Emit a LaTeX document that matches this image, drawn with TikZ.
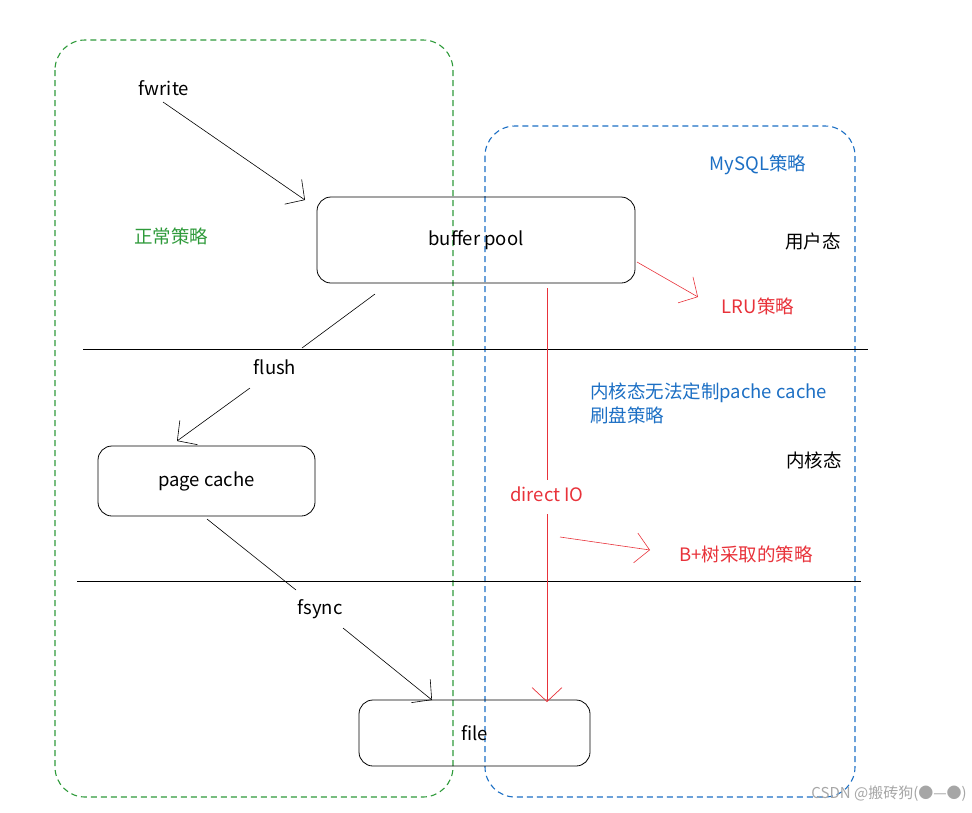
\documentclass[tikz,border=0pt]{standalone}
\usepackage{fontspec}
\setmainfont{Noto Sans CJK SC}
\usetikzlibrary{arrows.meta}
\definecolor{gr}{HTML}{2E9A3A}
\definecolor{bl}{HTML}{1C6FC4}
\definecolor{rd}{HTML}{E8323A}
\begin{document}
\begin{tikzpicture}[x=1pt,y=-1pt,font=\fontsize{18.5}{24}\selectfont,
  box/.style={draw,rounded corners=14pt,line width=0.8pt},
  reg/.style={draw,dashed,dash pattern=on 6pt off 4pt,rounded corners=30pt,line width=1.1pt},
  arr/.style={-{Straight Barb[length=14pt,width=30pt]},line width=0.6pt},
  lbl/.style={inner sep=1pt}]
\useasboundingbox (0,0) rectangle (972,812);
\draw[reg,gr] (55,40) rectangle (453,797);
\draw[reg,bl] (485,126) rectangle (855,797);
\node[box,minimum width=318pt,minimum height=86pt] (bp) at (476,240) {buffer pool};
\node[box,minimum width=217pt,minimum height=70pt] (pc) at (206.5,481) {page cache};
\node[box,minimum width=231pt,minimum height=66pt] (file) at (474.5,733) {file};
\draw[line width=0.7pt] (83,349) -- (868,349);
\draw[line width=0.7pt] (77,581) -- (861,581);
\node[lbl] (fw) at (164,88) {fwrite};
\coordinate (fw1) at (163,102); \coordinate (fw2) at (305,200);
\draw[arr] (fw1) -- (fw2);
\node[lbl,text=gr] (zc) at (171,236) {正常策略};
\node[lbl,text=bl] (my) at (758,165) {MySQL策略};
\node[lbl] (yh) at (813,241) {用户态};
\node[lbl,text=rd] (lru) at (758,306) {LRU策略};
\coordinate (l1) at (637,262); \coordinate (l2) at (698,297);
\draw[arr,rd] (l1) -- (l2);
\node[lbl] (fl) at (275,367) {flush};
\coordinate (f1) at (375,294); \coordinate (f2) at (302,348);
\draw[line width=0.6pt] (f1) -- (f2);
\coordinate (f3) at (250,388); \coordinate (f4) at (177,441);
\draw[arr] (f3) -- (f4);
\node[lbl,text=bl,align=left,anchor=north west] (nh) at (589,382) {内核态无法定制pache cache\\刷盘策略};
\node[lbl] (nht) at (814,460) {内核态};
\node[lbl,text=rd] (dio) at (547,494) {direct IO};
\coordinate (d1) at (547,288); \coordinate (d2) at (547,480);
\draw[rd,line width=0.7pt] (d1) -- (d2);
\coordinate (d3) at (547,514); \coordinate (d4) at (547,702);
\draw[arr,rd,line width=0.7pt] (d3) -- (d4);
\node[lbl,text=rd] (bt) at (746,554) {B+树采取的策略};
\coordinate (b1) at (560,537); \coordinate (b2) at (650,550);
\draw[arr,rd] (b1) -- (b2);
\node[lbl] (fs) at (320,609) {fsync};
\coordinate (s1) at (207,519); \coordinate (s2) at (296,590);
\draw[line width=0.6pt] (s1) -- (s2);
\coordinate (s3) at (343,628); \coordinate (s4) at (432,700);
\draw[arr] (s3) -- (s4);
\node[lbl,text=black!35,anchor=east,font=\fontsize{15}{18}\selectfont] (wm) at (968,794) {CSDN @搬砖狗(●—●)};
\end{tikzpicture}
\end{document}
